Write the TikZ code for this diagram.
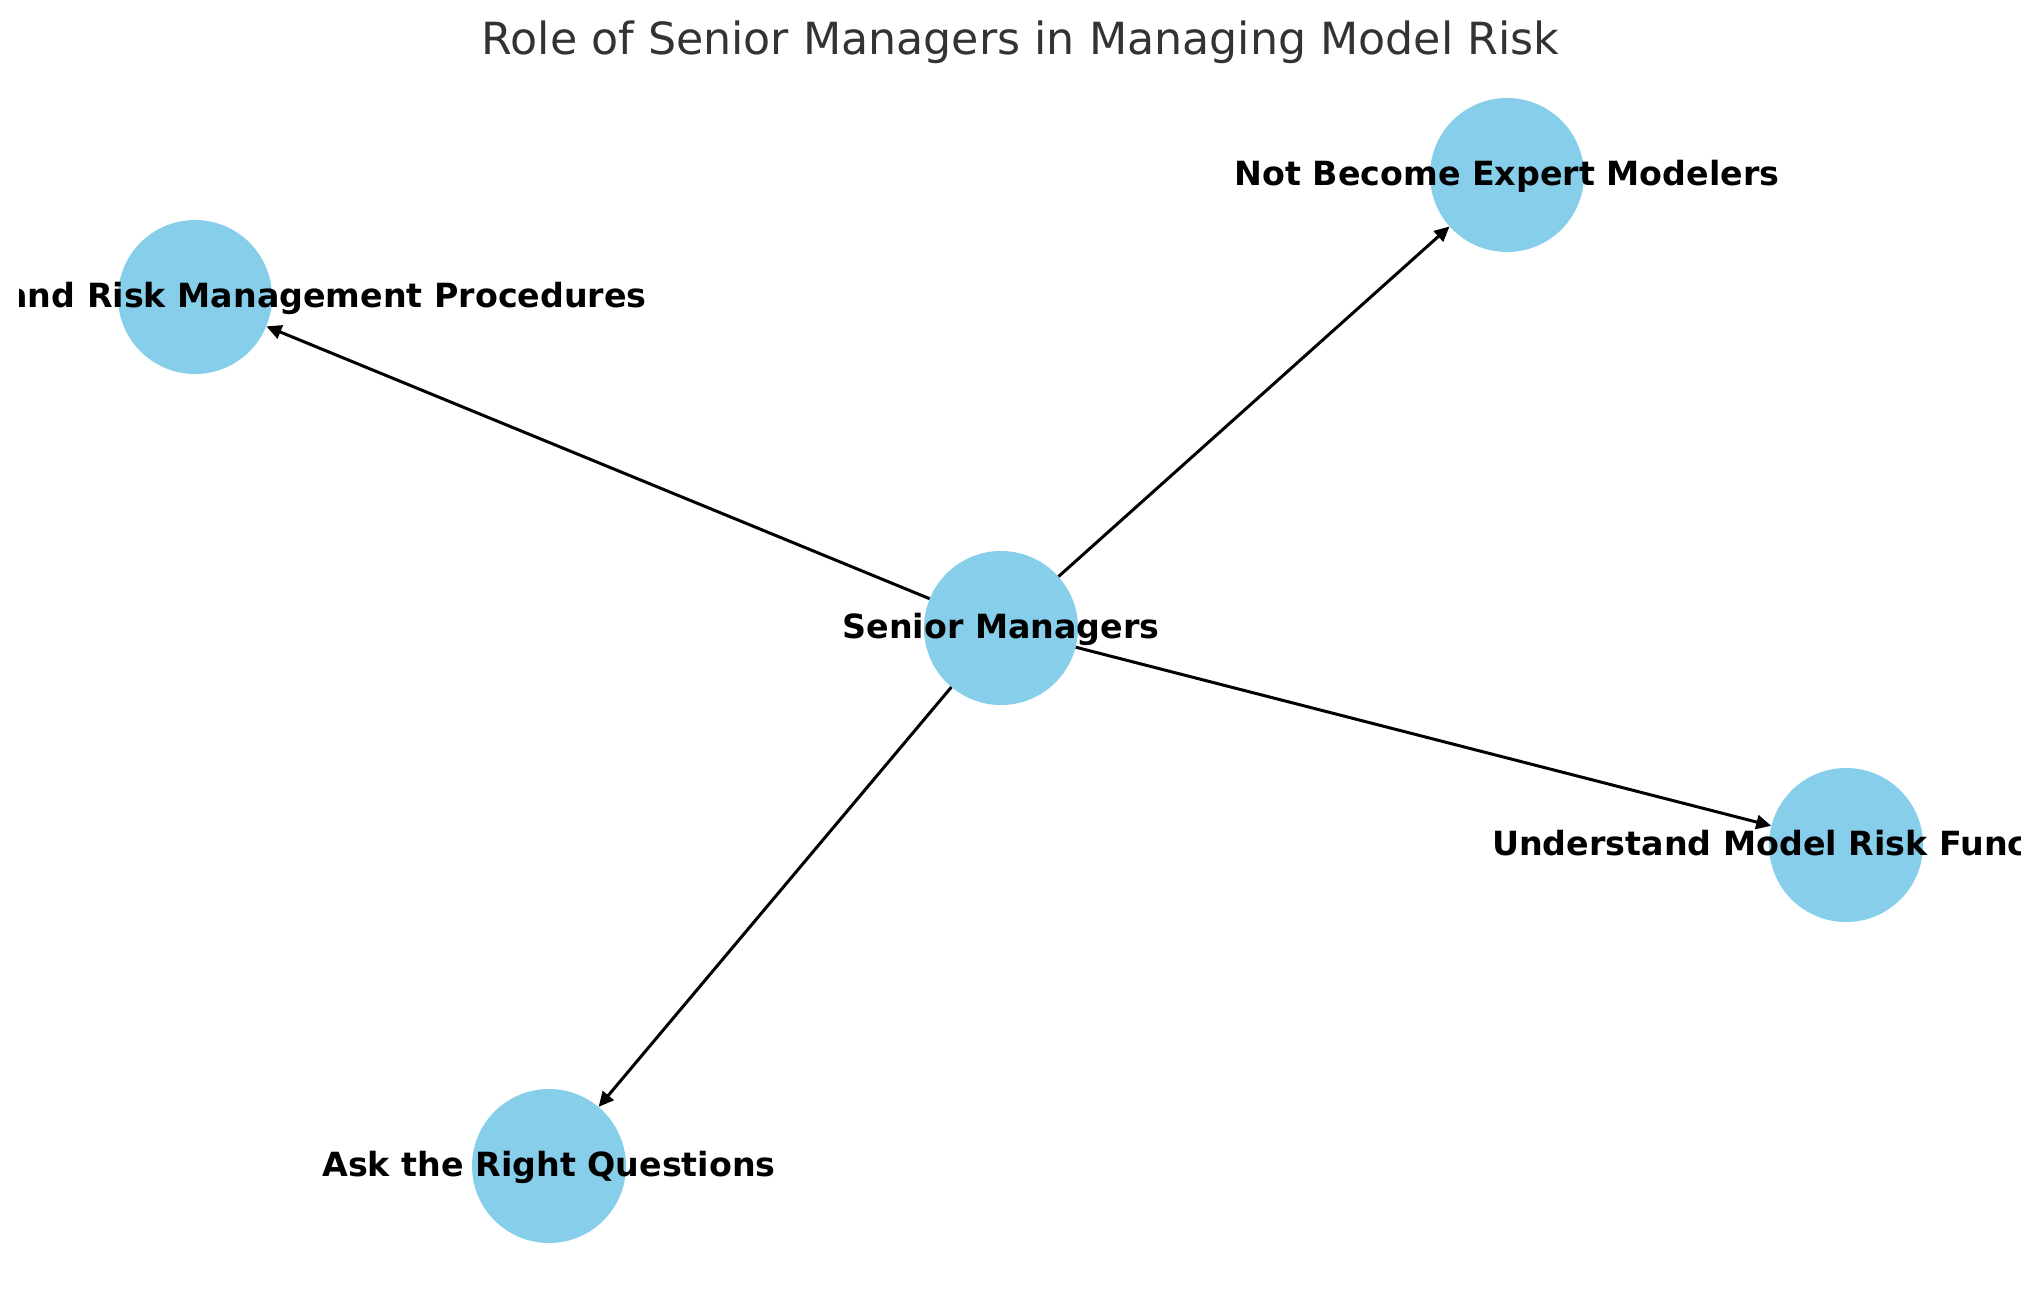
\documentclass[tikz,border=0pt]{standalone}
\usepackage{fontspec}
\setmainfont{DejaVu Sans}
\usetikzlibrary{arrows.meta}
\definecolor{skyblue}{HTML}{87CEEB}
\definecolor{titlegray}{HTML}{333333}
\tikzset{
  rolenode/.style={circle, fill=skyblue, minimum size=154bp, inner sep=0pt},
  rolelabel/.style={anchor=base, inner sep=0pt, font=\fontsize{33.3bp}{40bp}\selectfont\bfseries, text=black},
  roleedge/.style={draw=black, line width=3bp, -{Triangle[length=15bp,width=14bp]}, shorten >=0pt}
}
\begin{document}
\begin{tikzpicture}[x=1bp,y=-1bp]
\useasboundingbox (0,0) rectangle (2039,1290);
\fill[white] (0,0) rectangle (2039,1290);
\node[anchor=base, text=titlegray, inner sep=0pt, font=\fontsize{44.3bp}{50bp}\selectfont] (title) at (1020.5,54) {Role of Senior Managers in Managing Model Risk};
\node[rolenode] (sm) at (1001,628) {};
\node[rolenode] (ne) at (1507,175) {};
\node[rolenode] (rm) at (195,297) {};
\node[rolenode] (um) at (1846,845) {};
\node[rolenode] (aq) at (549,1166) {};
\draw[roleedge] (sm) -- (ne);
\draw[roleedge] (sm) -- (rm);
\draw[roleedge] (sm) -- (um);
\draw[roleedge] (sm) -- (aq);
\begin{scope}
\clip (19,0) rectangle (2020,1290);
\node[rolelabel] (lsm) at (1001,638) {Senior Managers};
\node[rolelabel] (lne) at (1507,185) {Not Become Expert Modelers};
\node[rolelabel, anchor=base east] (lrm) at (647,307) {and Risk Management Procedures};
\node[rolelabel, anchor=base west] (lum) at (1492,855) {Understand Model Risk Function};
\node[rolelabel] (laq) at (549,1176) {Ask the Right Questions};
\end{scope}
\end{tikzpicture}
\end{document}
